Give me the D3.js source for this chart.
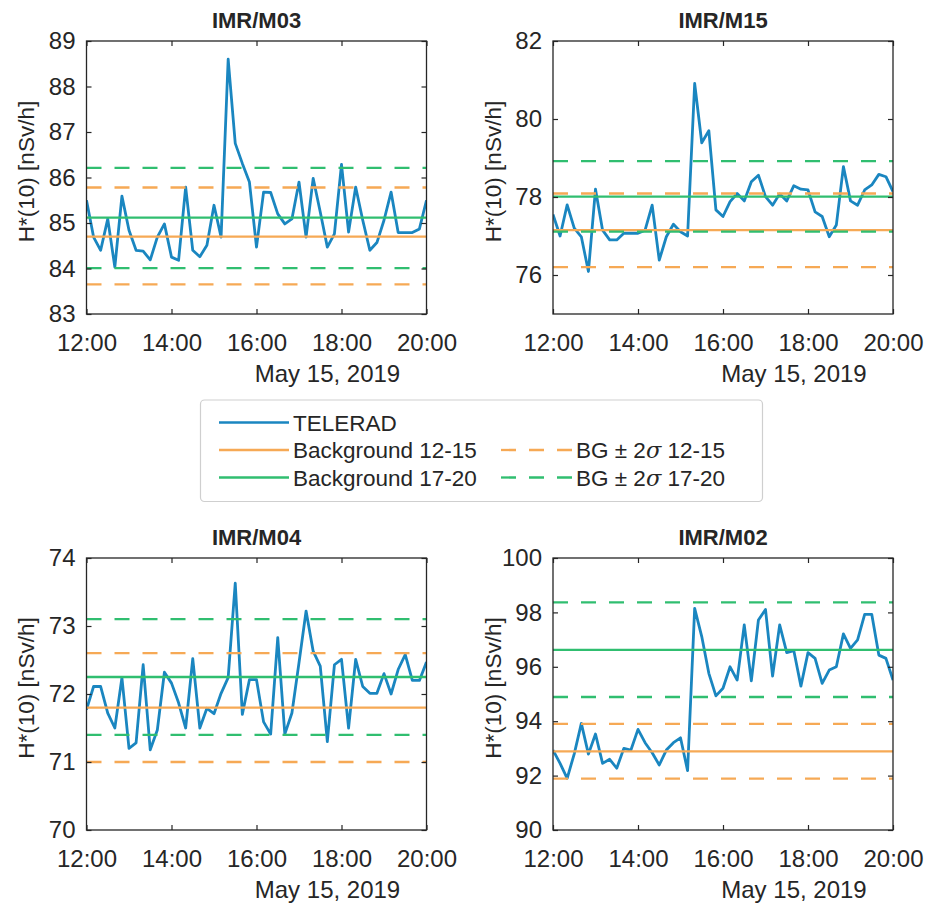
<!DOCTYPE html>
<html>
<head>
<meta charset="utf-8">
<script src="https://cdn.jsdelivr.net/npm/d3@7"></script>
<style>
  html, body { margin: 0; padding: 0; background: #fff; }
  text { font-family: "Liberation Sans", Arial, Helvetica, sans-serif; fill: #262626; }
</style>
</head>
<body>
<script>
// ---------------- DATA ----------------
const stations = ["IMR/M03", "IMR/M15", "IMR/M04", "IMR/M02"];
const startTime = new Date(2019, 4, 15, 12, 0);
const endTime = new Date(2019, 4, 15, 20, 0);
const stepMinutes = 10;
const xTickLabels = ["12:00", "14:00", "16:00", "18:00", "20:00"];
const dateLabel = "May 15, 2019";
const yLabel = "H*(10) [nSv/h]";

const yDomains = [[83, 89], [75, 82], [70, 74], [90, 100]];
const yTicks = [
  [83, 84, 85, 86, 87, 88, 89],
  [76, 78, 80, 82],
  [70, 71, 72, 73, 74],
  [90, 92, 94, 96, 98, 100]
];

const teleradM03 = [85.50,84.69,84.40,85.09,84.03,85.59,84.84,84.40,84.38,84.19,84.69,84.98,84.25,84.18,85.79,84.40,84.26,84.51,85.39,84.69,
  88.60,86.75,86.31,85.90,84.47,85.68,85.67,85.20,84.98,85.09,85.90,84.69,85.98,85.24,84.47,84.76,86.29,84.80,85.79,85.06,
  84.40,84.57,85.06,85.68,84.79,84.79,84.79,84.87,85.50];
const teleradM15 = [77.55,77.00,77.80,77.20,76.98,76.09,78.20,77.15,76.90,76.90,77.07,77.07,77.07,77.15,77.79,76.38,76.98,77.30,77.11,77.00,
  80.91,79.39,79.70,77.67,77.50,77.88,78.09,77.90,78.39,78.56,78.01,77.79,78.08,77.90,78.29,78.20,78.18,77.62,77.50,76.98,
  77.28,78.78,77.90,77.79,78.18,78.31,78.58,78.52,78.14];
const teleradM04 = [71.77,72.11,72.11,71.72,71.50,72.24,71.20,71.28,72.43,71.18,71.47,72.32,72.16,71.87,71.50,72.52,71.50,71.79,71.71,72.01,
  72.24,73.63,71.70,72.21,72.21,71.59,71.41,72.83,71.41,71.72,72.46,73.22,72.63,72.41,71.30,72.43,72.51,71.50,72.51,72.11,
  72.01,72.01,72.30,72.00,72.36,72.58,72.20,72.20,72.47];
const teleradM02 = [92.94,92.45,91.90,92.80,93.92,92.79,93.53,92.45,92.60,92.27,93.00,92.94,93.70,93.21,92.84,92.39,92.94,93.21,93.39,92.18,
  98.15,97.11,95.76,94.93,95.21,96.00,95.51,97.54,95.48,97.72,98.11,95.66,97.54,96.52,96.59,95.29,96.52,96.31,95.39,95.88,
  96.00,97.21,96.68,96.99,97.93,97.93,96.43,96.31,95.51];
const telerad = [teleradM03, teleradM15, teleradM04, teleradM02];

// background 12-15 : mean and +/- 2 sigma bounds
const bg1215Mean = [84.70, 77.15, 71.80, 92.89];
const bg1215Low  = [83.65, 76.20, 71.00, 91.89];
const bg1215High = [85.78, 78.09, 72.60, 93.90];
// background 17-20
const bg1720Mean = [85.12, 78.01, 72.25, 96.62];
const bg1720Low  = [84.01, 77.11, 71.40, 94.89];
const bg1720High = [86.21, 78.92, 73.10, 98.37];

const legendLabels = ["TELERAD", "Background 12-15", "Background 17-20", "BG \u00B1 2", "BG \u00B1 2"];

// ---------------- STYLE / LAYOUT ----------------
const BLUE = "#1a86c0", ORANGE = "#f6a955", GREEN = "#30be70", AX = "#262626";
const DASH = "15,13";
const FS_TICK = 24, FS_LAB = 22.5, FS_TITLE = 22, FS_LEG = 22.5;
const panels = [
  { left: 86.5, top: 41,  w: 340, h: 273 },
  { left: 553,  top: 41,  w: 340, h: 273 },
  { left: 86.5, top: 558, w: 340, h: 272 },
  { left: 553,  top: 558, w: 340, h: 272 }
];

const svg = d3.select("body").append("svg").attr("width", 931).attr("height", 903);

const parseHM = s => { const [h, m] = s.split(":").map(Number); return new Date(2019, 4, 15, h, m); };
const xTickDates = xTickLabels.map(parseHM);

panels.forEach((p, k) => {
  const g = svg.append("g").attr("transform", `translate(${p.left},${p.top})`);
  const x = d3.scaleTime().domain([startTime, endTime]).range([0, p.w]);
  const y = d3.scaleLinear().domain(yDomains[k]).range([p.h, 0]);
  const series = telerad[k].map((v, i) => ({ t: new Date(startTime.getTime() + i * stepMinutes * 60000), v }));

  const clipId = "clip" + k;
  g.append("clipPath").attr("id", clipId).append("rect").attr("width", p.w).attr("height", p.h);
  const plot = g.append("g").attr("clip-path", `url(#${clipId})`);

  // TELERAD line
  plot.append("path").datum(series)
    .attr("fill", "none").attr("stroke", BLUE).attr("stroke-width", 2.8)
    .attr("stroke-linejoin", "round")
    .attr("d", d3.line().x(d => x(d.t)).y(d => y(d.v)));

  // horizontal background lines
  const hl = [
    { v: bg1215Mean[k], c: ORANGE, dash: null },
    { v: bg1215Low[k],  c: ORANGE, dash: DASH },
    { v: bg1215High[k], c: ORANGE, dash: DASH },
    { v: bg1720Mean[k], c: GREEN,  dash: null },
    { v: bg1720Low[k],  c: GREEN,  dash: DASH },
    { v: bg1720High[k], c: GREEN,  dash: DASH }
  ];
  plot.selectAll("line.hl").data(hl).enter().append("line")
    .attr("x1", x(startTime)).attr("x2", x(endTime))
    .attr("y1", d => y(d.v)).attr("y2", d => y(d.v))
    .attr("stroke", d => d.c).attr("stroke-width", 2.3)
    .attr("stroke-dasharray", d => d.dash);

  // axes
  const fmt = d3.timeFormat("%H:%M");
  const xb = g.append("g").attr("transform", `translate(0,${p.h})`)
    .call(d3.axisBottom(x).tickValues(xTickDates).tickFormat(fmt).tickSizeInner(-5).tickSizeOuter(0).tickPadding(19.5));
  const xt = g.append("g")
    .call(d3.axisTop(x).tickValues(xTickDates).tickFormat(() => "").tickSizeInner(-5).tickSizeOuter(0));
  const yl = g.append("g")
    .call(d3.axisLeft(y).tickValues(yTicks[k]).tickFormat(d3.format("d")).tickSizeInner(-5).tickSizeOuter(0).tickPadding(11));
  const yr = g.append("g").attr("transform", `translate(${p.w},0)`)
    .call(d3.axisRight(y).tickValues(yTicks[k]).tickFormat(() => "").tickSizeInner(-5).tickSizeOuter(0));
  [xb, xt, yl, yr].forEach(a => {
    a.select(".domain").remove();
    a.selectAll(".tick line").attr("stroke", AX).attr("stroke-width", 1.2);
    a.selectAll(".tick text").attr("font-size", FS_TICK).attr("fill", AX)
      .attr("font-family", '"Liberation Sans", Arial, Helvetica, sans-serif');
  });
  xb.selectAll(".tick text").attr("dy", "0.71em");

  // box
  g.append("rect").attr("width", p.w).attr("height", p.h)
    .attr("fill", "none").attr("stroke", AX).attr("stroke-width", 1.3);

  // title
  g.append("text").attr("x", p.w / 2).attr("y", -13)
    .attr("text-anchor", "middle").attr("font-size", FS_TITLE).attr("font-weight", "bold")
    .text(stations[k]);

  // date label
  g.append("text").attr("x", 241).attr("y", p.h + 67.5)
    .attr("text-anchor", "middle").attr("font-size", FS_TICK).text(dateLabel);

  // y label
  g.append("text").attr("transform", `translate(-60,${p.h / 2 - 6}) rotate(-90)`)
    .attr("text-anchor", "middle").attr("dominant-baseline", "central")
    .attr("font-size", FS_LAB).text(yLabel);
});

// ---------------- LEGEND ----------------
const lg = svg.append("g");
lg.append("rect").attr("x", 200.5).attr("y", 400).attr("width", 562).attr("height", 101.5)
  .attr("rx", 4).attr("fill", "#fff").attr("stroke", "#cfcfcf").attr("stroke-width", 1.2);

const legItems = [
  { x1: 219, x2: 289, y: 422.5, c: BLUE,   dash: null, label: legendLabels[0] },
  { x1: 219, x2: 289, y: 450,   c: ORANGE, dash: null, label: legendLabels[1] },
  { x1: 219, x2: 289, y: 477.5, c: GREEN,  dash: null, label: legendLabels[2] },
  { x1: 501, x2: 572, y: 450,   c: ORANGE, dash: DASH, label: legendLabels[3], suffix: " 12-15" },
  { x1: 501, x2: 572, y: 477.5, c: GREEN,  dash: DASH, label: legendLabels[4], suffix: " 17-20" }
];
legItems.forEach(it => {
  lg.append("line").attr("x1", it.x1).attr("x2", it.x2).attr("y1", it.y).attr("y2", it.y)
    .attr("stroke", it.c).attr("stroke-width", 2.3).attr("stroke-dasharray", it.dash);
  const t = lg.append("text").attr("x", it.x2 + 4).attr("y", it.y + 8).attr("font-size", FS_LEG);
  t.append("tspan").text(it.label);
  if (it.suffix) {
    t.append("tspan").attr("font-style", "italic").attr("font-family", '"DejaVu Serif", "Liberation Serif", serif').text("\u03C3");
    t.append("tspan").text(it.suffix);
  }
});
</script>
</body>
</html>
